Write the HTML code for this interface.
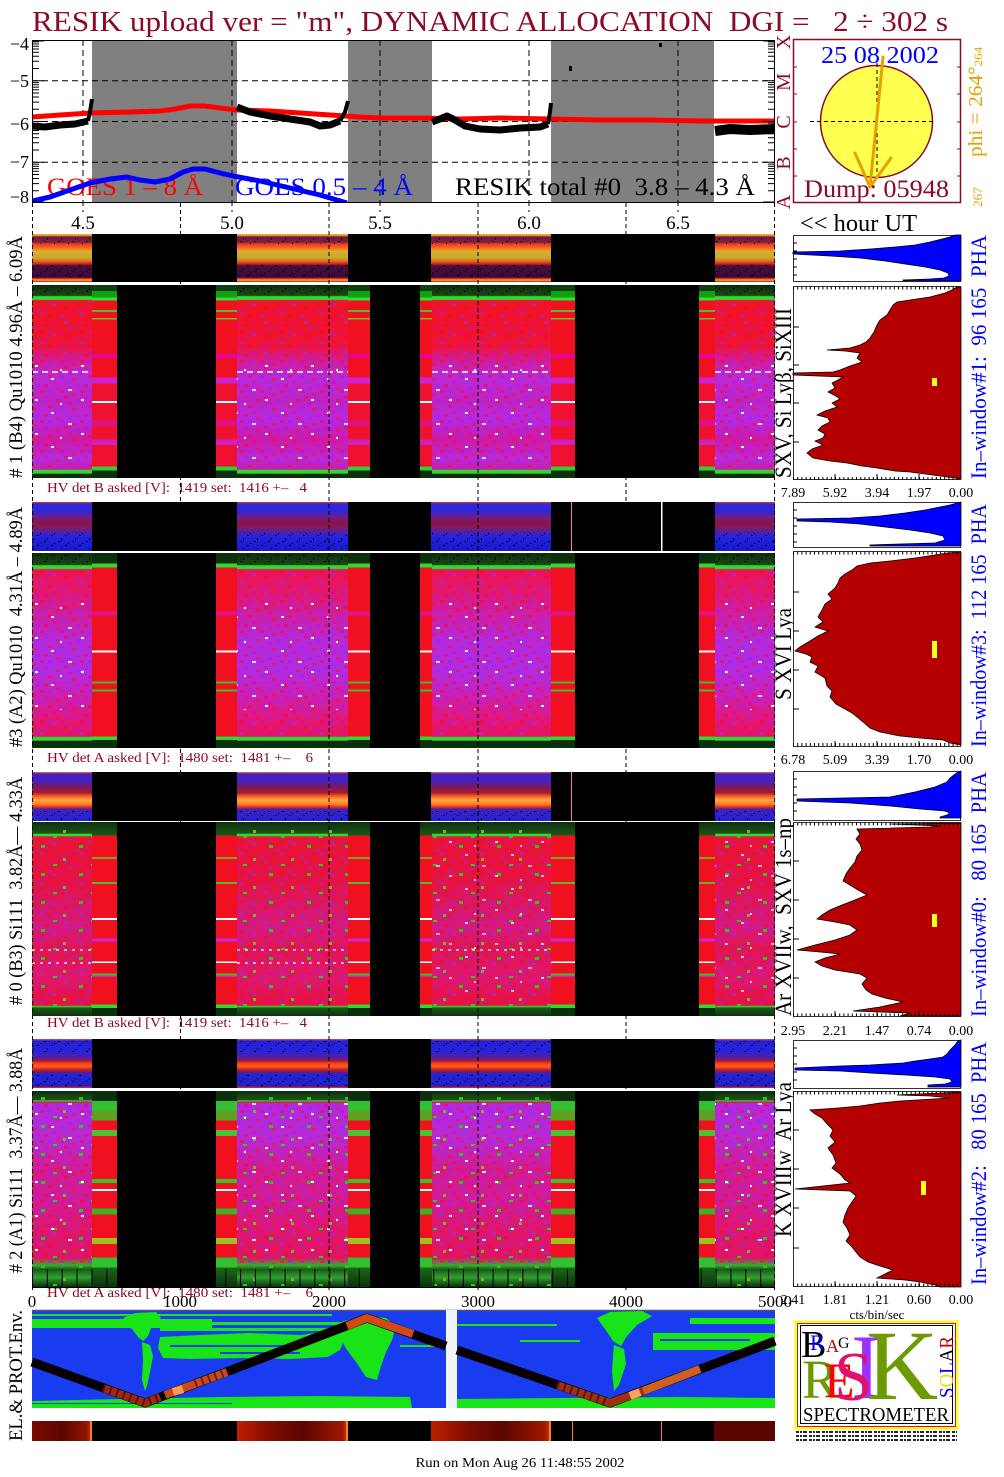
<!DOCTYPE html>
<html><head><meta charset="utf-8">
<style>
html,body{margin:0;padding:0;background:#fff;}
svg{display:block;}
text{font-family:"Liberation Serif","DejaVu Serif",serif;white-space:pre;}
</style></head><body>
<svg xmlns="http://www.w3.org/2000/svg" width="1004" height="1477" viewBox="0 0 1004 1477">
<defs>
<linearGradient id="m1" x1="0" y1="0" x2="0" y2="1">
<stop offset="0" stop-color="#0c2c0c"/><stop offset=".055" stop-color="#184a14"/><stop offset=".06" stop-color="#30d830"/><stop offset=".075" stop-color="#30d830"/><stop offset=".08" stop-color="#f01426"/><stop offset=".31" stop-color="#ee1434"/><stop offset=".38" stop-color="#d41c8c"/><stop offset=".48" stop-color="#b82ad8"/><stop offset=".6" stop-color="#c024c0"/><stop offset=".7" stop-color="#b42ae0"/><stop offset=".8" stop-color="#d01aa0"/><stop offset=".9" stop-color="#b82ad8"/><stop offset=".955" stop-color="#c820a8"/><stop offset=".96" stop-color="#30d830"/><stop offset=".975" stop-color="#30d830"/><stop offset=".98" stop-color="#0c300c"/><stop offset="1" stop-color="#0c300c"/>
</linearGradient>
<linearGradient id="m2" x1="0" y1="0" x2="0" y2="1">
<stop offset="0" stop-color="#0c2c0c"/><stop offset=".06" stop-color="#1a4a14"/><stop offset=".065" stop-color="#30d830"/><stop offset=".08" stop-color="#30d830"/><stop offset=".085" stop-color="#ec1450"/><stop offset=".2" stop-color="#e01872"/><stop offset=".35" stop-color="#c822b0"/><stop offset=".45" stop-color="#b42ad8"/><stop offset=".6" stop-color="#b02ce0"/><stop offset=".72" stop-color="#c822b8"/><stop offset=".85" stop-color="#e0187c"/><stop offset=".94" stop-color="#e41460"/><stop offset=".945" stop-color="#30d830"/><stop offset=".96" stop-color="#30d830"/><stop offset=".965" stop-color="#0c300c"/><stop offset="1" stop-color="#0c300c"/>
</linearGradient>
<linearGradient id="m3" x1="0" y1="0" x2="0" y2="1">
<stop offset="0" stop-color="#0c300c"/><stop offset=".058" stop-color="#1e5018"/><stop offset=".062" stop-color="#30d830"/><stop offset=".072" stop-color="#30d830"/><stop offset=".076" stop-color="#e81438"/><stop offset=".3" stop-color="#e41440"/><stop offset=".45" stop-color="#d81868"/><stop offset=".55" stop-color="#d41a80"/><stop offset=".65" stop-color="#e01650"/><stop offset=".8" stop-color="#dc1870"/><stop offset=".9" stop-color="#e41448"/><stop offset=".945" stop-color="#e41448"/><stop offset=".95" stop-color="#30d830"/><stop offset=".96" stop-color="#1c5a18"/><stop offset="1" stop-color="#0c300c"/>
</linearGradient>
<linearGradient id="m4" x1="0" y1="0" x2="0" y2="1">
<stop offset="0" stop-color="#0c300c"/><stop offset=".045" stop-color="#1e5018"/><stop offset=".05" stop-color="#30d830"/><stop offset=".058" stop-color="#e01448"/><stop offset=".065" stop-color="#b02ae0"/><stop offset=".25" stop-color="#b82ad0"/><stop offset=".4" stop-color="#d41c90"/><stop offset=".55" stop-color="#d01c98"/><stop offset=".7" stop-color="#dc1870"/><stop offset=".85" stop-color="#e01460"/><stop offset=".89" stop-color="#30b030"/><stop offset=".91" stop-color="#1a5a18"/><stop offset=".95" stop-color="#30a030"/><stop offset="1" stop-color="#0c300c"/>
</linearGradient>
<!-- stripe gradients (hard stops) -->
<linearGradient id="s1" x1="0" y1="0" x2="0" y2="1">
<stop offset="0" stop-color="#0c4010"/><stop offset=".03" stop-color="#0c4010"/><stop offset=".03" stop-color="#10a010"/><stop offset=".065" stop-color="#10a010"/><stop offset=".065" stop-color="#30e030"/><stop offset=".08" stop-color="#30e030"/><stop offset=".08" stop-color="#f01020"/><stop offset=".13" stop-color="#f01020"/><stop offset=".13" stop-color="#50c020"/><stop offset=".14" stop-color="#50c020"/><stop offset=".14" stop-color="#f01020"/><stop offset=".17" stop-color="#f01020"/><stop offset=".17" stop-color="#70c020"/><stop offset=".18" stop-color="#70c020"/><stop offset=".18" stop-color="#f01020"/><stop offset=".36" stop-color="#f01020"/><stop offset=".36" stop-color="#e000c0"/><stop offset=".375" stop-color="#e000c0"/><stop offset=".375" stop-color="#f01020"/><stop offset=".48" stop-color="#f01020"/><stop offset=".48" stop-color="#d020d0"/><stop offset=".51" stop-color="#d020d0"/><stop offset=".51" stop-color="#f01030"/><stop offset=".6" stop-color="#f01030"/><stop offset=".6" stop-color="#ffffff"/><stop offset=".612" stop-color="#ffffff"/><stop offset=".612" stop-color="#f01030"/><stop offset=".7" stop-color="#f01030"/><stop offset=".7" stop-color="#e01080"/><stop offset=".73" stop-color="#e01080"/><stop offset=".73" stop-color="#f01030"/><stop offset=".8" stop-color="#f01030"/><stop offset=".8" stop-color="#d020c0"/><stop offset=".83" stop-color="#d020c0"/><stop offset=".83" stop-color="#f01030"/><stop offset=".94" stop-color="#f01030"/><stop offset=".94" stop-color="#30d030"/><stop offset=".96" stop-color="#30d030"/><stop offset=".96" stop-color="#0c300c"/><stop offset="1" stop-color="#0c300c"/>
</linearGradient>
<linearGradient id="s2" x1="0" y1="0" x2="0" y2="1">
<stop offset="0" stop-color="#0c300c"/><stop offset=".055" stop-color="#0c300c"/><stop offset=".055" stop-color="#30d830"/><stop offset=".075" stop-color="#30d830"/><stop offset=".075" stop-color="#f01020"/><stop offset=".3" stop-color="#f01020"/><stop offset=".3" stop-color="#e01090"/><stop offset=".32" stop-color="#e01090"/><stop offset=".32" stop-color="#f01020"/><stop offset=".5" stop-color="#f01020"/><stop offset=".5" stop-color="#ffffff"/><stop offset=".51" stop-color="#ffffff"/><stop offset=".51" stop-color="#f01020"/><stop offset=".66" stop-color="#f01020"/><stop offset=".66" stop-color="#40c020"/><stop offset=".67" stop-color="#40c020"/><stop offset=".67" stop-color="#f01020"/><stop offset=".7" stop-color="#f01020"/><stop offset=".7" stop-color="#40c020"/><stop offset=".71" stop-color="#40c020"/><stop offset=".71" stop-color="#f01020"/><stop offset=".94" stop-color="#f01020"/><stop offset=".94" stop-color="#30d830"/><stop offset=".96" stop-color="#30d830"/><stop offset=".96" stop-color="#0c300c"/><stop offset="1" stop-color="#0c300c"/>
</linearGradient>
<linearGradient id="s3" x1="0" y1="0" x2="0" y2="1">
<stop offset="0" stop-color="#0c300c"/><stop offset=".07" stop-color="#1a5a18"/><stop offset=".07" stop-color="#f01020"/><stop offset=".18" stop-color="#f01020"/><stop offset=".18" stop-color="#80a020"/><stop offset=".19" stop-color="#80a020"/><stop offset=".19" stop-color="#f01020"/><stop offset=".31" stop-color="#f01020"/><stop offset=".31" stop-color="#50c020"/><stop offset=".32" stop-color="#50c020"/><stop offset=".32" stop-color="#f01020"/><stop offset=".495" stop-color="#f01020"/><stop offset=".495" stop-color="#ffffff"/><stop offset=".505" stop-color="#ffffff"/><stop offset=".505" stop-color="#f01020"/><stop offset=".6" stop-color="#f01020"/><stop offset=".6" stop-color="#d020e0"/><stop offset=".615" stop-color="#d020e0"/><stop offset=".615" stop-color="#f01020"/><stop offset=".72" stop-color="#f01020"/><stop offset=".72" stop-color="#ffffff"/><stop offset=".728" stop-color="#ffffff"/><stop offset=".728" stop-color="#f01020"/><stop offset=".78" stop-color="#f01020"/><stop offset=".78" stop-color="#40c020"/><stop offset=".79" stop-color="#40c020"/><stop offset=".79" stop-color="#d020d0"/><stop offset=".8" stop-color="#d020d0"/><stop offset=".8" stop-color="#f01020"/><stop offset=".94" stop-color="#f01020"/><stop offset=".94" stop-color="#30d830"/><stop offset=".96" stop-color="#30d830"/><stop offset=".96" stop-color="#0c300c"/><stop offset="1" stop-color="#0c300c"/>
</linearGradient>
<linearGradient id="s4" x1="0" y1="0" x2="0" y2="1">
<stop offset="0" stop-color="#0c300c"/><stop offset=".05" stop-color="#0c300c"/><stop offset=".05" stop-color="#30c030"/><stop offset=".1" stop-color="#30c030"/><stop offset=".1" stop-color="#60a020"/><stop offset=".15" stop-color="#60a020"/><stop offset=".15" stop-color="#f01020"/><stop offset=".2" stop-color="#f01020"/><stop offset=".2" stop-color="#50c030"/><stop offset=".23" stop-color="#50c030"/><stop offset=".23" stop-color="#f01020"/><stop offset=".45" stop-color="#f01020"/><stop offset=".45" stop-color="#40c020"/><stop offset=".47" stop-color="#40c020"/><stop offset=".47" stop-color="#f01020"/><stop offset=".5" stop-color="#f01020"/><stop offset=".5" stop-color="#ffffff"/><stop offset=".51" stop-color="#ffffff"/><stop offset=".51" stop-color="#f01020"/><stop offset=".6" stop-color="#f01020"/><stop offset=".6" stop-color="#40b020"/><stop offset=".63" stop-color="#40b020"/><stop offset=".63" stop-color="#f01020"/><stop offset=".75" stop-color="#f01020"/><stop offset=".75" stop-color="#a0c020"/><stop offset=".78" stop-color="#a0c020"/><stop offset=".78" stop-color="#f01020"/><stop offset=".85" stop-color="#f01020"/><stop offset=".85" stop-color="#30c030"/><stop offset=".9" stop-color="#30c030"/><stop offset=".9" stop-color="#1a6a18"/><stop offset="1" stop-color="#0c300c"/>
</linearGradient>
<!-- top strip gradients -->
<linearGradient id="t1" x1="0" y1="0" x2="0" y2="1">
<stop offset="0" stop-color="#f0c030"/><stop offset=".04" stop-color="#e08020"/><stop offset=".06" stop-color="#6a1848"/><stop offset=".18" stop-color="#8a2040"/><stop offset=".2" stop-color="#e03a20"/><stop offset=".3" stop-color="#ff7020"/><stop offset=".36" stop-color="#d8b030"/><stop offset=".5" stop-color="#c8a828"/><stop offset=".56" stop-color="#e07020"/><stop offset=".62" stop-color="#d02818"/><stop offset=".66" stop-color="#4a1040"/><stop offset=".9" stop-color="#3a0a3a"/><stop offset=".93" stop-color="#e83010"/><stop offset=".96" stop-color="#ffb030"/><stop offset="1" stop-color="#a02020"/>
</linearGradient>
<linearGradient id="t2" x1="0" y1="0" x2="0" y2="1">
<stop offset="0" stop-color="#f03010"/><stop offset=".04" stop-color="#2a2ae0"/><stop offset=".2" stop-color="#3424d0"/><stop offset=".3" stop-color="#6a2090"/><stop offset=".42" stop-color="#8c1440"/><stop offset=".55" stop-color="#7a1a70"/><stop offset=".65" stop-color="#3a22c8"/><stop offset=".75" stop-color="#2020e0"/><stop offset="1" stop-color="#1a1ac8"/>
</linearGradient>
<linearGradient id="t3" x1="0" y1="0" x2="0" y2="1">
<stop offset="0" stop-color="#ff7020"/><stop offset=".04" stop-color="#4020c8"/><stop offset=".2" stop-color="#4a22b8"/><stop offset=".3" stop-color="#7a1860"/><stop offset=".42" stop-color="#a01c30"/><stop offset=".48" stop-color="#f05020"/><stop offset=".57" stop-color="#ffa840"/><stop offset=".66" stop-color="#ff7a28"/><stop offset=".72" stop-color="#e02818"/><stop offset=".76" stop-color="#3c22c0"/><stop offset="1" stop-color="#2222d8"/>
</linearGradient>
<linearGradient id="t4" x1="0" y1="0" x2="0" y2="1">
<stop offset="0" stop-color="#f05010"/><stop offset=".04" stop-color="#2020e0"/><stop offset=".25" stop-color="#2a22d8"/><stop offset=".38" stop-color="#5020a0"/><stop offset=".44" stop-color="#a01840"/><stop offset=".5" stop-color="#ff4010"/><stop offset=".56" stop-color="#ff6020"/><stop offset=".62" stop-color="#d02010"/><stop offset=".68" stop-color="#5a1c90"/><stop offset=".74" stop-color="#2424d8"/><stop offset=".97" stop-color="#2020d0"/><stop offset=".98" stop-color="#e02010"/><stop offset="1" stop-color="#e02010"/>
</linearGradient>
<pattern id="nz" width="40" height="30" patternUnits="userSpaceOnUse">
<rect x="0" y="0" width="4" height="3" fill="#ff0030"/><rect x="8" y="0" width="4" height="3" fill="#9a20ff"/><rect x="20" y="0" width="4" height="3" fill="#e000b0"/><rect x="32" y="3" width="4" height="3" fill="#ff1020"/><rect x="12" y="3" width="4" height="3" fill="#a028ff"/><rect x="24" y="6" width="4" height="3" fill="#ff0030"/><rect x="4" y="6" width="4" height="3" fill="#c010e0"/><rect x="36" y="9" width="4" height="3" fill="#9a20ff"/><rect x="16" y="9" width="4" height="3" fill="#ff1020"/><rect x="28" y="12" width="4" height="3" fill="#e000b0"/><rect x="0" y="12" width="4" height="3" fill="#a028ff"/><rect x="8" y="15" width="4" height="3" fill="#ff0030"/><rect x="20" y="15" width="4" height="3" fill="#9a20ff"/><rect x="32" y="18" width="4" height="3" fill="#ff1020"/><rect x="12" y="21" width="4" height="3" fill="#e000b0"/><rect x="24" y="21" width="4" height="3" fill="#a028ff"/><rect x="4" y="24" width="4" height="3" fill="#ff0030"/><rect x="36" y="24" width="4" height="3" fill="#c010e0"/><rect x="16" y="27" width="4" height="3" fill="#ff1020"/><rect x="28" y="27" width="4" height="3" fill="#9a20ff"/>
</pattern>
<pattern id="wd" width="46" height="34" patternUnits="userSpaceOnUse">
<rect x="5" y="4" width="3" height="2" fill="#fff"/><rect x="22" y="15" width="4" height="2" fill="#f0d8ff"/><rect x="35" y="25" width="3" height="2" fill="#fff"/><rect x="14" y="29" width="2" height="2" fill="#fff"/>
</pattern>
<pattern id="gf" width="38" height="28" patternUnits="userSpaceOnUse">
<rect x="3" y="5" width="4" height="3" fill="#30c020"/><rect x="25" y="18" width="3" height="3" fill="#80b020"/><rect x="15" y="24" width="4" height="2" fill="#20d020"/>
</pattern>
<pattern id="bk" width="14" height="10" patternUnits="userSpaceOnUse">
<rect x="2" y="1" width="2" height="1" fill="#000"/><rect x="9" y="5" width="2" height="1" fill="#000"/><rect x="5" y="8" width="1" height="2" fill="#000"/><rect x="12" y="3" width="1" height="1" fill="#000"/>
</pattern>
<clipPath id="gc"><rect x="32" y="40" width="743" height="163"/></clipPath>
<linearGradient id="e1" x1="0" y1="0" x2="1" y2="0"><stop offset="0" stop-color="#7a0a00"/><stop offset=".5" stop-color="#5a0600"/><stop offset=".9" stop-color="#901400"/><stop offset="1" stop-color="#c03000"/></linearGradient>
<linearGradient id="e2" x1="0" y1="0" x2="1" y2="0"><stop offset="0" stop-color="#c02000"/><stop offset=".3" stop-color="#800c00"/><stop offset=".6" stop-color="#5a0600"/><stop offset=".95" stop-color="#a01800"/><stop offset="1" stop-color="#d04000"/></linearGradient>
</defs>

<rect width="1004" height="1477" fill="#fff"/>

<text x="32" y="31" font-size="28" fill="#8a0a28" textLength="916" lengthAdjust="spacingAndGlyphs">RESIK upload ver = "m", DYNAMIC ALLOCATION  DGI =   2 ÷ 302 s</text>

<!-- GOES PLOT -->
<g fill="#808080">
<rect x="92" y="40" width="145" height="163"/>
<rect x="348" y="40" width="84" height="163"/>
<rect x="551" y="40" width="163" height="163"/>
</g>
<g stroke="#000" stroke-width="1" stroke-dasharray="6 4" fill="none">
<path d="M32 80.75H775M32 121.5H775M32 162.25H775"/>
<path d="M83 40V212M232 40V212M380 40V212M529 40V212M678 40V212"/>
</g>
<g clip-path="url(#gc)">
<polyline fill="none" stroke="#ff0000" stroke-width="5" points="32,117 60,115 90,113 130,112 160,111 175,109 190,106 205,106 220,108 237,110 270,111 300,113 330,115 360,117 380,118 420,118 460,119 500,118 550,119 600,120 650,120 700,121 775,121"/>
<g fill="none" stroke="#000" stroke-linejoin="round">
<polyline stroke-width="7" points="32,126 45,127 60,125 75,124 88,121"/>
<polyline stroke-width="4" points="88,121 90,112 92,99"/>
<polyline stroke-width="7" points="237,107 250,112 270,116 290,119 310,122 320,126 330,125 340,121"/>
<polyline stroke-width="4" points="340,121 345,112 348,101"/>
<polyline stroke-width="7" points="432,122 440,119 447,116 455,120 465,126 480,129 500,130 520,128 540,127 548,124"/>
<polyline stroke-width="4" points="548,124 550,112 551,103"/>
<polyline stroke-width="10" points="715,131 730,129 750,130 775,129"/>
</g>
<rect x="569" y="66" width="3" height="5" fill="#000"/>
<rect x="659" y="43" width="3" height="4" fill="#000"/>
<text x="47" y="195" font-size="25" fill="#ff0000" textLength="156" lengthAdjust="spacingAndGlyphs">GOES 1 – 8 Å</text>
<text x="235" y="195" font-size="25" fill="#0000ff" textLength="178" lengthAdjust="spacingAndGlyphs">GOES 0.5 – 4 Å</text>
<text x="455" y="195" font-size="25" fill="#000" textLength="300" lengthAdjust="spacingAndGlyphs">RESIK total #0  3.8 – 4.3 Å</text>
<polyline fill="none" stroke="#0000ff" stroke-width="5" stroke-linejoin="round" points="32,201 50,197 67,191 90,183 110,179 127,177 140,180 155,182 170,179 183,172 193,169 205,169 220,173 233,176 260,181 290,188 320,195 347,203"/>
</g>
<rect x="32.5" y="40.5" width="742" height="162" fill="none" stroke="#000" stroke-width="1"/>
<path stroke="#000" stroke-width="1" fill="none" d="M32 80.75h12M32 121.5h12M32 162.25h12M32 41h12M32 202h12M775 80.75h-12M775 121.5h-12M775 162.25h-12M775 41h-12M775 202h-12
M32 41.9h7M32 44h7M32 46.3h7M32 49h7M32 52.3h7M32 56.2h7M32 61.3h7M32 68.5h7M32 82.6h7M32 84.7h7M32 87.1h7M32 89.8h7M32 93h7M32 97h7M32 102.1h7M32 109.2h7M32 123.3h7M32 125.5h7M32 127.8h7M32 130.5h7M32 133.8h7M32 137.7h7M32 142.8h7M32 150h7M32 164.1h7M32 166.2h7M32 168.6h7M32 171.3h7M32 174.5h7M32 178.5h7M32 183.6h7M32 190.7h7
M775 41.9h-7M775 44h-7M775 46.3h-7M775 49h-7M775 52.3h-7M775 56.2h-7M775 61.3h-7M775 68.5h-7M775 82.6h-7M775 84.7h-7M775 87.1h-7M775 89.8h-7M775 93h-7M775 97h-7M775 102.1h-7M775 109.2h-7M775 123.3h-7M775 125.5h-7M775 127.8h-7M775 130.5h-7M775 133.8h-7M775 137.7h-7M775 142.8h-7M775 150h-7M775 164.1h-7M775 166.2h-7M775 168.6h-7M775 171.3h-7M775 174.5h-7M775 178.5h-7M775 183.6h-7M775 190.7h-7"/>
<g font-size="18" fill="#000" text-anchor="end">
<text x="29" y="50">−4</text><text x="29" y="87">−5</text><text x="29" y="130">−6</text><text x="29" y="168">−7</text><text x="29" y="203">−8</text>
</g>
<g font-size="20" fill="#8a0a28" text-anchor="middle">
<text transform="translate(790,202) rotate(-90)">A</text>
<text transform="translate(790,163) rotate(-90)">B</text>
<text transform="translate(790,122) rotate(-90)">C</text>
<text transform="translate(790,82) rotate(-90)">M</text>
<text transform="translate(790,42) rotate(-90)">X</text>
</g>
<g font-size="19" fill="#000" text-anchor="middle">
<text x="83" y="229">4.5</text><text x="232" y="229">5.0</text><text x="380" y="229">5.5</text><text x="529" y="229">6.0</text><text x="678" y="229">6.5</text>
</g>
<text x="800" y="231" font-size="24" fill="#000" textLength="117" lengthAdjust="spacingAndGlyphs">&lt;&lt; hour UT</text>

<!-- SUN PANEL -->
<rect x="793.5" y="39.5" width="167" height="163" fill="#fff" stroke="#8a0a28" stroke-width="1.5"/>
<path stroke="#8a0a28" stroke-width="1" d="M793 67h4M793 94h4M793 122h4M793 149h4M793 176h4M961 67h-4M961 94h-4M961 122h-4M961 149h-4M961 176h-4"/>
<circle cx="876.5" cy="121.5" r="56" fill="#ffff50" stroke="#8a0a28" stroke-width="1.5"/>
<path stroke="#000" stroke-width="1" stroke-dasharray="4 3" d="M810 121.5H933M877 63V180"/>
<text x="821" y="63" font-size="24" fill="#0000ff" textLength="118" lengthAdjust="spacingAndGlyphs">25 08 2002</text>
<g stroke="#e8a000" stroke-width="3" fill="none" stroke-linecap="round">
<path d="M883 57L870 187M870 187L855 153M870 187L891 158"/>
</g>
<text x="804" y="197" font-size="25" fill="#8a0a28" textLength="145" lengthAdjust="spacingAndGlyphs">Dump: 05948</text>
<text transform="translate(982,157) rotate(-90)" font-size="20" fill="#e8a000" textLength="110" lengthAdjust="spacingAndGlyphs">phi = 264°<tspan font-size="12">264</tspan></text>
<text transform="translate(982,207) rotate(-90)" font-size="13" fill="#e8a000" textLength="20" lengthAdjust="spacingAndGlyphs">267</text>

<!-- ========== BAND 1 ========== -->
<rect x="32" y="234" width="743" height="48" fill="#000"/>
<g fill="url(#t1)"><rect x="32" y="234" width="60" height="48"/><rect x="237" y="234" width="111" height="48"/><rect x="431" y="234" width="120" height="48"/><rect x="715" y="234" width="60" height="48"/></g>
<g fill="url(#bk)"><rect x="32" y="236" width="60" height="8"/><rect x="237" y="236" width="111" height="8"/><rect x="431" y="236" width="120" height="8"/><rect x="715" y="236" width="60" height="8"/><rect x="32" y="265" width="60" height="13"/><rect x="237" y="265" width="111" height="13"/><rect x="431" y="265" width="120" height="13"/><rect x="715" y="265" width="60" height="13"/></g>
<rect x="32" y="285" width="743" height="193" fill="#000"/>
<g fill="url(#m1)"><rect x="32" y="285" width="60" height="193"/><rect x="237" y="285" width="111" height="193"/><rect x="432" y="285" width="119" height="193"/><rect x="715" y="285" width="60" height="193"/></g>
<g fill="url(#s1)"><rect x="92" y="285" width="25" height="193"/><rect x="216" y="285" width="21" height="193"/><rect x="348" y="285" width="22" height="193"/><rect x="420" y="285" width="12" height="193"/><rect x="551" y="285" width="24" height="193"/><rect x="699" y="285" width="16" height="193"/></g>
<g fill="url(#nz)" opacity=".45"><rect x="32" y="301" width="60" height="166"/><rect x="237" y="301" width="111" height="166"/><rect x="432" y="301" width="119" height="166"/><rect x="715" y="301" width="60" height="166"/></g>
<g fill="url(#wd)"><rect x="32" y="360" width="60" height="105"/><rect x="237" y="360" width="111" height="105"/><rect x="432" y="360" width="119" height="105"/><rect x="715" y="360" width="60" height="105"/></g>
<g fill="url(#bk)" opacity=".8"><rect x="32" y="285" width="60" height="10"/><rect x="237" y="285" width="111" height="10"/><rect x="432" y="285" width="119" height="10"/><rect x="715" y="285" width="60" height="10"/></g>
<g stroke="#fff" stroke-width="1.5" stroke-dasharray="6 4"><path d="M32 372h60M237 372h111M432 372h119M715 372h60"/></g>
<text x="47" y="492" font-size="14" fill="#8a0a28" textLength="260" lengthAdjust="spacingAndGlyphs">HV det B asked [V]:  1419 set:  1416 +–   4</text>

<!-- ========== BAND 2 ========== -->
<rect x="32" y="502" width="743" height="49" fill="#000"/>
<g fill="url(#t2)"><rect x="32" y="502" width="60" height="49"/><rect x="237" y="502" width="111" height="49"/><rect x="431" y="502" width="120" height="49"/><rect x="715" y="502" width="60" height="49"/></g>
<g fill="url(#bk)"><rect x="32" y="532" width="60" height="17"/><rect x="237" y="532" width="111" height="17"/><rect x="431" y="532" width="120" height="17"/><rect x="715" y="532" width="60" height="17"/></g>
<rect x="571" y="502" width="1" height="49" fill="#ff9020"/>
<rect x="661" y="502" width="1.5" height="49" fill="#ffffff"/>
<rect x="32" y="553" width="743" height="195" fill="#000"/>
<g fill="url(#m2)"><rect x="32" y="553" width="60" height="195"/><rect x="237" y="553" width="111" height="195"/><rect x="432" y="553" width="119" height="195"/><rect x="715" y="553" width="60" height="195"/></g>
<g fill="url(#s2)"><rect x="92" y="553" width="25" height="195"/><rect x="216" y="553" width="21" height="195"/><rect x="348" y="553" width="22" height="195"/><rect x="420" y="553" width="12" height="195"/><rect x="551" y="553" width="24" height="195"/><rect x="699" y="553" width="16" height="195"/></g>
<g fill="url(#nz)" opacity=".45"><rect x="32" y="570" width="60" height="166"/><rect x="237" y="570" width="111" height="166"/><rect x="432" y="570" width="119" height="166"/><rect x="715" y="570" width="60" height="166"/></g>
<g fill="url(#wd)"><rect x="32" y="600" width="60" height="110"/><rect x="237" y="600" width="111" height="110"/><rect x="432" y="600" width="119" height="110"/><rect x="715" y="600" width="60" height="110"/></g>
<g fill="url(#bk)" opacity=".8"><rect x="32" y="553" width="60" height="11"/><rect x="237" y="553" width="111" height="11"/><rect x="432" y="553" width="119" height="11"/><rect x="715" y="553" width="60" height="11"/></g>
<text x="47" y="762" font-size="14" fill="#8a0a28" textLength="266" lengthAdjust="spacingAndGlyphs">HV det A asked [V]:  1480 set:  1481 +–    6</text>

<!-- ========== BAND 3 ========== -->
<rect x="32" y="772" width="743" height="49" fill="#000"/>
<g fill="url(#t3)"><rect x="32" y="772" width="60" height="49"/><rect x="237" y="772" width="111" height="49"/><rect x="431" y="772" width="120" height="49"/><rect x="715" y="772" width="60" height="49"/></g>
<g fill="url(#bk)"><rect x="32" y="810" width="60" height="10"/><rect x="237" y="810" width="111" height="10"/><rect x="431" y="810" width="120" height="10"/><rect x="715" y="810" width="60" height="10"/></g>
<rect x="571" y="772" width="1" height="49" fill="#ff9020"/>
<rect x="32" y="822" width="743" height="194" fill="#000"/>
<g fill="url(#m3)"><rect x="32" y="822" width="60" height="194"/><rect x="237" y="822" width="111" height="194"/><rect x="432" y="822" width="119" height="194"/><rect x="715" y="822" width="60" height="194"/></g>
<g fill="url(#s3)"><rect x="92" y="822" width="25" height="194"/><rect x="216" y="822" width="21" height="194"/><rect x="348" y="822" width="22" height="194"/><rect x="420" y="822" width="12" height="194"/><rect x="551" y="822" width="24" height="194"/><rect x="699" y="822" width="16" height="194"/></g>
<g fill="url(#nz)" opacity=".4"><rect x="32" y="838" width="60" height="166"/><rect x="237" y="838" width="111" height="166"/><rect x="432" y="838" width="119" height="166"/><rect x="715" y="838" width="60" height="166"/></g>
<g fill="url(#gf)"><rect x="32" y="822" width="60" height="190"/><rect x="237" y="822" width="111" height="190"/><rect x="432" y="822" width="119" height="190"/><rect x="715" y="822" width="60" height="190"/></g>
<g fill="url(#wd)" opacity=".7"><rect x="432" y="840" width="119" height="160"/><rect x="715" y="840" width="60" height="160"/></g>
<g stroke="#fff" stroke-width="1.2" stroke-dasharray="3 5"><path d="M32 950h60M237 950h111M432 950h119M32 963h60M237 963h111"/></g>
<text x="47" y="1027" font-size="14" fill="#8a0a28" textLength="260" lengthAdjust="spacingAndGlyphs">HV det B asked [V]:  1419 set:  1416 +–   4</text>

<!-- ========== BAND 4 ========== -->
<rect x="32" y="1039" width="743" height="49" fill="#000"/>
<g fill="url(#t4)"><rect x="32" y="1039" width="60" height="49"/><rect x="237" y="1039" width="111" height="49"/><rect x="431" y="1039" width="120" height="49"/><rect x="715" y="1039" width="60" height="49"/></g>
<g fill="url(#bk)"><rect x="32" y="1041" width="60" height="11"/><rect x="237" y="1041" width="111" height="11"/><rect x="431" y="1041" width="120" height="11"/><rect x="715" y="1041" width="60" height="11"/><rect x="32" y="1075" width="60" height="11"/><rect x="237" y="1075" width="111" height="11"/><rect x="431" y="1075" width="120" height="11"/><rect x="715" y="1075" width="60" height="11"/></g>
<rect x="32" y="1091" width="743" height="196" fill="#000"/>
<g fill="url(#m4)"><rect x="32" y="1091" width="60" height="196"/><rect x="237" y="1091" width="111" height="196"/><rect x="432" y="1091" width="119" height="196"/><rect x="715" y="1091" width="60" height="196"/></g>
<g fill="url(#s4)"><rect x="92" y="1091" width="25" height="196"/><rect x="216" y="1091" width="21" height="196"/><rect x="348" y="1091" width="22" height="196"/><rect x="420" y="1091" width="12" height="196"/><rect x="551" y="1091" width="24" height="196"/><rect x="699" y="1091" width="16" height="196"/></g>
<g fill="url(#nz)" opacity=".45"><rect x="32" y="1104" width="60" height="160"/><rect x="237" y="1104" width="111" height="160"/><rect x="432" y="1104" width="119" height="160"/><rect x="715" y="1104" width="60" height="160"/></g>
<g fill="url(#gf)"><rect x="32" y="1091" width="60" height="196"/><rect x="237" y="1091" width="111" height="196"/><rect x="432" y="1091" width="119" height="196"/><rect x="715" y="1091" width="60" height="196"/></g>
<g fill="url(#wd)"><rect x="32" y="1103" width="60" height="150"/><rect x="237" y="1103" width="111" height="150"/><rect x="432" y="1103" width="119" height="150"/><rect x="715" y="1103" width="60" height="150"/></g>
<line x1="32" y1="1278" x2="775" y2="1278" stroke="#000" stroke-width="18" stroke-dasharray="1 13.86"/>
<text x="47" y="1297" font-size="14" fill="#8a0a28" textLength="266" lengthAdjust="spacingAndGlyphs">HV det A asked [V]:  1480 set:  1481 +–    6</text>

<g stroke="#000" stroke-width="1" stroke-dasharray="4 3">
<path d="M32.5 203V1290M180.5 203V1290M329 203V1290M478 203V1290M626 203V1290M774.5 203V1290"/>
</g>
<line x1="32" y1="1287.5" x2="775" y2="1287.5" stroke="#000" stroke-width="1"/>
<g font-size="17" fill="#000" text-anchor="middle">
<text x="32" y="1307">0</text><text x="180" y="1307">1000</text><text x="329" y="1307">2000</text><text x="478" y="1307">3000</text><text x="626" y="1307">4000</text><text x="775" y="1307">5000</text>
</g>

<g font-size="19" fill="#000">
<text transform="translate(22,478) rotate(-90)" textLength="242" lengthAdjust="spacingAndGlyphs"># 1 (B4) Qu1010 4.96Å – 6.09Å</text>
<text transform="translate(22,747) rotate(-90)" textLength="240" lengthAdjust="spacingAndGlyphs">#3 (A2) Qu1010  4.31Å – 4.89Å</text>
<text transform="translate(22,1005) rotate(-90)" textLength="228" lengthAdjust="spacingAndGlyphs"># 0 (B3) Si111  3.82Å— 4.33Å</text>
<text transform="translate(22,1273) rotate(-90)" textLength="225" lengthAdjust="spacingAndGlyphs"># 2 (A1) Si111  3.37Å— 3.88Å</text>
<text transform="translate(22,1441) rotate(-90)" textLength="131" lengthAdjust="spacingAndGlyphs">EL.&amp; PROT.Env.</text>
</g>
<g font-size="23" fill="#000">
<text transform="translate(791,478) rotate(-90)" textLength="170" lengthAdjust="spacingAndGlyphs">SXV, Si Lyβ, SiXIII</text>
<text transform="translate(791,700) rotate(-90)" textLength="92" lengthAdjust="spacingAndGlyphs">S XVI Lya</text>
<text transform="translate(791,1016) rotate(-90)" textLength="198" lengthAdjust="spacingAndGlyphs">Ar XVIIw,  SXV 1s–np</text>
<text transform="translate(791,1237) rotate(-90)" textLength="155" lengthAdjust="spacingAndGlyphs">K XVIIIw  Ar Lya</text>
</g>
<g font-size="22" fill="#0000ff">
<text transform="translate(986,479) rotate(-90)" textLength="244" lengthAdjust="spacingAndGlyphs">In–window#1:  96 165  PHA</text>
<text transform="translate(986,747) rotate(-90)" textLength="243" lengthAdjust="spacingAndGlyphs">In–window#3:  112 165  PHA</text>
<text transform="translate(986,1017) rotate(-90)" textLength="245" lengthAdjust="spacingAndGlyphs">In–window#0:   80 165  PHA</text>
<text transform="translate(986,1285) rotate(-90)" textLength="243" lengthAdjust="spacingAndGlyphs">In–window#2:   80 165  PHA</text>
</g>

<!-- HISTOGRAMS -->
<g stroke="#000" stroke-width=".8" stroke-linejoin="miter">
<rect x="793.5" y="235.5" width="167" height="46" fill="#fff"/>
<polygon fill="#0000ff" points="961,235 955,235 950,237 942,239 930,242 915,245 895,247 870,249 840,251 793,252 793,254 830,256 860,258 885,261 905,264 925,267 940,270 948,273 949,276 944,278 930,279 903,280 903,281 961,281"/>
<rect x="793.5" y="286.5" width="167" height="193" fill="#fff"/>
<polygon fill="#b40000" points="961,287 957,287 952,290 945,293 930,297 910,300 897,302 893,305 890,310 887,315 880,320 877,325 874,332 870,338 866,342 860,345 850,348 827,350 845,351 860,353 857,358 862,362 850,366 840,370 833,372 793,373 793,375 843,377 838,380 832,383 835,388 828,392 836,396 840,399 832,403 837,407 825,411 817,415 828,418 830,422 822,426 818,430 825,434 823,438 815,441 823,445 812,449 807,453 813,458 830,461 847,463 862,466 877,468 895,471 910,472 925,474 940,476 955,478 961,479"/>
<rect x="793.5" y="502.5" width="167" height="45" fill="#fff"/>
<polygon fill="#0000ff" points="961,502 957,503 950,505 940,507 925,510 905,513 880,516 850,518 797,519 797,521 830,522 860,524 885,527 910,530 930,533 943,536 945,540 935,543 900,544 870,545 870,546 961,546"/>
<rect x="793.5" y="551.5" width="167" height="195" fill="#fff"/>
<polygon fill="#b40000" points="961,552 947,553 935,555 915,558 890,561 870,563 857,566 852,570 845,574 840,578 838,583 835,588 828,594 832,599 825,604 822,610 818,617 823,622 815,627 828,631 818,636 810,641 800,647 795,651 806,654 812,657 810,662 818,666 815,672 825,678 827,686 832,691 830,697 836,704 845,709 852,713 857,717 863,722 870,728 880,732 900,736 920,738 943,740 950,743 961,745"/>
<rect x="793.5" y="771.5" width="167" height="49" fill="#fff"/>
<polygon fill="#0000ff" points="961,771 958,772 954,775 950,778 947,782 935,787 915,792 890,797 797,799 797,801 850,803 890,806 920,809 945,811 950,813 947,815 940,817 940,818 961,818"/>
<rect x="793.5" y="822.5" width="167" height="194" fill="#fff"/>
<polygon fill="#b40000" points="961,823 890,824 940,826 930,827 857,829 860,834 856,839 860,844 862,850 857,856 855,862 850,868 846,874 843,881 850,885 858,890 867,895 855,900 842,905 830,910 822,915 817,919 835,922 850,925 857,930 850,935 835,940 815,945 797,950 820,952 840,954 825,958 815,962 822,966 835,970 860,974 867,978 862,984 866,990 872,994 885,998 903,1002 880,1007 853,1011 880,1012 910,1013 900,1016 961,1016"/>
<rect x="793.5" y="1040.5" width="167" height="48" fill="#fff"/>
<polygon fill="#0000ff" points="961,1040 958,1041 955,1045 950,1050 947,1054 943,1057 930,1059 915,1061 903,1063 870,1065 840,1066 795,1068 795,1070 840,1071 870,1073 905,1075 935,1077 950,1079 952,1082 945,1084 928,1085 928,1087 961,1087"/>
<rect x="793.5" y="1091.5" width="167" height="195" fill="#fff"/>
<polygon fill="#b40000" points="961,1092 897,1095 930,1096 950,1098 900,1101 880,1103 860,1106 838,1108 810,1110 815,1114 822,1118 827,1124 833,1130 830,1136 835,1142 828,1148 833,1155 836,1163 832,1168 840,1174 845,1180 850,1183 795,1189 850,1191 856,1196 852,1202 848,1208 845,1215 843,1222 847,1228 850,1235 846,1241 852,1247 856,1252 860,1257 868,1262 880,1266 893,1270 877,1278 905,1280 920,1282 935,1285 940,1287 961,1287"/>
</g>
<g fill="#ffff20">
<rect x="932" y="378" width="5" height="8"/>
<rect x="932" y="641" width="5" height="17"/>
<rect x="932" y="914" width="5" height="13"/>
<rect x="921" y="1181" width="5" height="14"/>
</g>
<g stroke="#000" stroke-width="3" stroke-dasharray="1 3.2" fill="none">
<path d="M793 288H961M793 478.5H961M793 553H961M793 744.5H961M793 824H961M793 1015H961M793 1093H961M793 1285H961"/>
</g>
<g stroke="#000" stroke-width="1" fill="none">
<path d="M793 327h6M793 365h6M793 403h6M793 442h6M793 592h6M793 631h6M793 670h6M793 709h6M793 861h6M793 900h6M793 939h6M793 978h6M793 1130h6M793 1169h6M793 1208h6M793 1248h6
M793 243h4M793 251h4M793 259h4M793 267h4M793 275h4M793 510h4M793 518h4M793 526h4M793 534h4M793 542h4M793 779h4M793 787h4M793 795h4M793 803h4M793 811h4M793 1048h4M793 1056h4M793 1064h4M793 1072h4M793 1080h4
M835 479v-5M877 479v-5M919 479v-5M835 746v-5M877 746v-5M919 746v-5M835 1016v-5M877 1016v-5M919 1016v-5M835 1286v-5M877 1286v-5M919 1286v-5"/>
</g>
<g font-size="14" fill="#000" text-anchor="middle">
<text x="793" y="497">7.89</text><text x="835" y="497">5.92</text><text x="877" y="497">3.94</text><text x="919" y="497">1.97</text><text x="961" y="497">0.00</text>
<text x="793" y="764">6.78</text><text x="835" y="764">5.09</text><text x="877" y="764">3.39</text><text x="919" y="764">1.70</text><text x="961" y="764">0.00</text>
<text x="793" y="1035">2.95</text><text x="835" y="1035">2.21</text><text x="877" y="1035">1.47</text><text x="919" y="1035">0.74</text><text x="961" y="1035">0.00</text>
<text x="793" y="1304">2.41</text><text x="835" y="1304">1.81</text><text x="877" y="1304">1.21</text><text x="919" y="1304">0.60</text><text x="961" y="1304">0.00</text>
</g>
<text x="877" y="1319" font-size="13" fill="#000" text-anchor="middle">cts/bin/sec</text>

<!-- MAP -->
<rect x="32" y="1310" width="743" height="98" fill="#1a3cf0"/>
<line x1="32" y1="1310.5" x2="775" y2="1310.5" stroke="#505070" stroke-width="1.5"/>
<g fill="#18e418">
<rect x="32" y="1319" width="180" height="9"/>
<rect x="32" y="1314" width="300" height="2"/>
<rect x="200" y="1322" width="150" height="3"/>
<polygon points="123,1318 135,1313 156,1312 161,1318 152,1326 148,1336 143,1341 138,1337 132,1329 125,1325"/>
<polygon points="142,1342 150,1345 153,1356 150,1372 147,1386 145,1391 142,1380 143,1360"/>
<polygon points="160,1337 200,1335 250,1333 300,1335 338,1330 345,1338 340,1350 328,1357 290,1359 240,1358 190,1359 163,1358 158,1348"/>
<rect x="160" y="1328" width="170" height="3"/>
<polygon points="343,1321 368,1316 386,1318 396,1326 392,1340 386,1352 381,1366 377,1380 366,1377 356,1362 347,1350 340,1338"/>
<polygon points="32,1401 120,1399 220,1397 320,1396 410,1397 412,1408 32,1408"/>
<polygon points="457,1399 560,1398 680,1397 775,1398 775,1408 457,1408"/>
<polygon points="597,1318 610,1312 642,1311 652,1316 637,1325 627,1336 621,1346 613,1341 605,1329"/>
<polygon points="614,1345 624,1349 626,1364 619,1385 614,1391 612,1372 613,1356"/>
<rect x="653" y="1333" width="122" height="17"/>
<rect x="690" y="1318" width="85" height="6"/>
<rect x="457" y="1324" width="100" height="2"/>
<rect x="400" y="1345" width="46" height="2"/>
<rect x="520" y="1340" width="60" height="2"/>
</g>
<g fill="#1a3cf0">
<rect x="170" y="1345" width="120" height="2"/><rect x="220" y="1352" width="80" height="2"/><rect x="660" y="1339" width="90" height="2"/><rect x="32" y="1403" width="200" height="1"/>
</g>
<rect x="446" y="1310" width="11" height="98" fill="#f2f5f6"/>
<g fill="none" stroke-linejoin="round">
<polyline stroke="#080000" stroke-width="9" points="32,1362 145,1403 367,1318 446,1346"/>
<polyline stroke="#080000" stroke-width="9" points="457,1350 610,1403 775,1341"/>
<polyline stroke="#a02810" stroke-width="8" points="103,1388 145,1403 160,1397"/>
<polyline stroke="#c84a1c" stroke-width="8" points="165,1395 227,1372"/>
<polyline stroke="#ff9a50" stroke-width="8" points="173,1392 183,1389"/>
<polyline stroke="#d04a18" stroke-width="8" points="347,1326 367,1318 413,1334"/>
<polyline stroke="#a03010" stroke-width="8" points="557,1385 610,1403 643,1391"/>
<polyline stroke="#d06020" stroke-width="8" points="643,1391 700,1369"/>
<polyline stroke="#ffa060" stroke-width="8" points="630,1396 640,1392"/>
</g>
<g fill="none" stroke="#200000" stroke-width="8" stroke-dasharray="2 5" opacity=".55">
<polyline points="103,1388 145,1403 160,1397"/>
<polyline points="195,1384 227,1372"/>
<polyline points="557,1385 610,1403"/>
</g>

<!-- ELECTRON STRIP -->
<rect x="32" y="1421" width="743" height="20" fill="#000"/>
<rect x="32" y="1421" width="60" height="20" fill="url(#e1)"/>
<rect x="237" y="1421" width="111" height="20" fill="url(#e2)"/>
<rect x="431" y="1421" width="120" height="20" fill="url(#e2)"/>
<rect x="714" y="1421" width="61" height="20" fill="#5a0600"/>
<g fill="#ff7a20"><rect x="90" y="1421" width="2" height="20"/><rect x="346" y="1421" width="2" height="20"/><rect x="549" y="1421" width="2" height="20"/><rect x="572" y="1421" width="1" height="20"/><rect x="661" y="1421" width="1" height="20"/></g>

<!-- LOGO -->
<rect x="795.5" y="1321.5" width="162" height="107" fill="#fff" stroke="#ffff00" stroke-width="2"/>
<rect x="797.5" y="1323.5" width="158" height="103" fill="none" stroke="#ff0000" stroke-width="1"/>
<rect x="800.5" y="1325.5" width="152" height="98" fill="none" stroke="#000" stroke-width="1"/>
<text x="801" y="1357" font-size="38" fill="#000">B</text>
<text x="810" y="1350" font-size="22" fill="#0000ff">R</text>
<text x="826" y="1352" font-size="18" fill="#c00000">A</text>
<text x="838" y="1348" font-size="16" fill="#000">G</text>
<text x="802" y="1398" font-size="55" fill="#6b9b00">R</text>
<text x="824" y="1397" font-size="50" fill="#ff0000">E</text>
<text x="851" y="1398" font-size="92" fill="#9b30ff">I</text>
<text x="834" y="1400" font-size="70" fill="#e0106e">S</text>
<text x="866" y="1399" font-size="100" fill="#6b9b00">K</text>
<text transform="translate(953,1398) rotate(-90)" font-size="20" textLength="62" lengthAdjust="spacingAndGlyphs"><tspan fill="#0000ff">S</tspan><tspan fill="#e8e000">O</tspan><tspan fill="#0000ff">L</tspan><tspan fill="#000">A</tspan><tspan fill="#c00000">R</tspan></text>
<text x="803" y="1421" font-size="20" fill="#000" textLength="146" lengthAdjust="spacingAndGlyphs">SPECTROMETER</text>
<g stroke="#000" stroke-width="2" stroke-dasharray="3 1 2 1 4 2" opacity=".85">
<path d="M796 1432H957M796 1436H957M796 1440H957"/>
</g>

<text x="520" y="1467" font-size="14" fill="#000" text-anchor="middle" textLength="209" lengthAdjust="spacingAndGlyphs">Run on Mon Aug 26 11:48:55 2002</text>
</svg>
</body></html>
